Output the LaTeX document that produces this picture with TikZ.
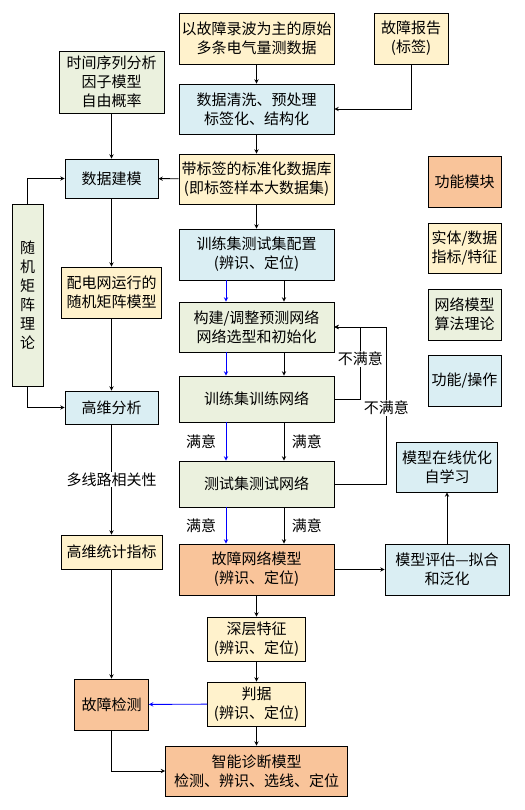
\documentclass[tikz,border=0pt]{standalone}
\usepackage{fontspec}
\setmainfont{Noto Sans CJK SC}
\definecolor{funcc}{HTML}{F9C49A}
\definecolor{entc}{HTML}{FFF2CC}
\definecolor{netc}{HTML}{EBF1DE}
\definecolor{opc}{HTML}{DAEEF3}
\begin{document}
\begin{tikzpicture}[x=1pt,y=-1pt,>=stealth,line width=0.9pt,
  every node/.style={font=\fontsize{15}{19}\selectfont},
  box/.style={draw,align=center,inner sep=0pt},
  func/.style={box,fill=funcc},
  ent/.style={box,fill=entc},
  net/.style={box,fill=netc},
  op/.style={box,fill=opc},
  lbl/.style={fill=white,inner sep=1pt}]
\useasboundingbox (0,0) rectangle (524,810);

\node[ent,minimum width=155,minimum height=51] (raw) at (256.5,38.5) {以故障录波为主的原始\\多条电气量测数据};
\node[ent,minimum width=74,minimum height=51] (report) at (411,38.5) {故障报告\\(标签)};
\node[op,minimum width=155,minimum height=50] (clean) at (256.5,109) {数据清洗、预处理\\标签化、结构化};
\node[net,minimum width=105,minimum height=62] (tsa) at (111.5,82) {时间序列分析\\因子模型\\自由概率};
\node[ent,minimum width=155,minimum height=50] (db) at (256.5,179) {带标签的标准化数据库\\(即标签样本大数据集)};
\node[op,minimum width=93,minimum height=39] (dmodel) at (111.5,178.5) {数据建模};
\node[net,minimum width=31,minimum height=182] (rmt) at (27.5,295) {随\\机\\矩\\阵\\理\\论};
\node[op,minimum width=155,minimum height=51] (cfg) at (256.5,254.5) {训练集测试集配置\\(辨识、定位)};
\node[ent,minimum width=100,minimum height=51] (rmm) at (111.5,292.5) {配电网运行的\\随机矩阵模型};
\node[net,minimum width=155,minimum height=50] (build) at (256.5,327) {构建/调整预测网络\\网络选型和初始化};
\node[net,minimum width=155,minimum height=46] (train) at (256.5,399) {训练集训练网络};
\node[op,minimum width=93,minimum height=33] (hda) at (111.5,407.5) {高维分析};
\node[net,minimum width=155,minimum height=46] (test) at (256.5,484) {测试集测试网络};
\node[op,minimum width=101,minimum height=50] (online) at (447,467) {模型在线优化\\自学习};
\node[ent,minimum width=101,minimum height=34] (hds) at (111.5,552) {高维统计指标};
\node[func,minimum width=155,minimum height=51] (fnm) at (256.5,569.5) {故障网络模型\\(辨识、定位)};
\node[op,minimum width=124,minimum height=51] (eval) at (447,569.5) {模型评估—拟合\\和泛化};
\node[ent,minimum width=98,minimum height=44] (deep) at (256.5,639) {深层特征\\(辨识、定位)};
\node[ent,minimum width=98,minimum height=44] (crit) at (256.5,704) {判据\\(辨识、定位)};
\node[func,minimum width=74,minimum height=51] (detect) at (111.5,704.5) {故障检测};
\node[func,minimum width=182,minimum height=50] (diag) at (256.5,771) {智能诊断模型\\检测、辨识、选线、定位};

\node[func,minimum width=73,minimum height=51] (leg1) at (464.5,181.5) {功能模块};
\node[ent,minimum width=73,minimum height=50] (leg2) at (464.5,248) {实体/数据\\指标/特征};
\node[net,minimum width=73,minimum height=51] (leg3) at (464.5,314.5) {网络模型\\算法理论};
\node[op,minimum width=73,minimum height=51] (leg4) at (464.5,380.5) {功能/操作};

\draw[->] (raw) -- (clean);
\draw[->] (report.south) |- (clean.east);
\draw[->] (clean) -- (db);
\draw[->] (tsa) -- (dmodel);
\draw[->] (db) -- (dmodel);
\draw[->] (rmt.north) |- (dmodel.west);
\draw[->] (rmt.south) |- (hda.west);
\draw[->] (dmodel) -- (rmm);
\draw[->] (rmm) -- (hda);
\draw[->] (db) -- (cfg);

\draw[->,blue] ([xshift=-30.5pt]cfg.south) -- ([xshift=-30.5pt]build.north);
\draw[->] ([xshift=27.5pt]cfg.south) -- ([xshift=27.5pt]build.north);
\draw[->,blue] ([xshift=-30.5pt]build.south) -- ([xshift=-30.5pt]train.north);
\draw[->] ([xshift=27.5pt]build.south) -- ([xshift=27.5pt]train.north);
\draw[->,blue] ([xshift=-30.5pt]train.south) --
  node[left,black,xshift=-6pt] {满意}
  ([xshift=-30.5pt]test.north);
\draw[->] ([xshift=27.5pt]train.south) --
  node[right,xshift=4pt] {满意}
  ([xshift=27.5pt]test.north);
\draw[->,blue] ([xshift=-30.5pt]test.south) --
  node[left,black,xshift=-6pt] {满意}
  ([xshift=-30.5pt]fnm.north);
\draw[->] ([xshift=27.5pt]test.south) --
  node[right,xshift=4pt] {满意}
  ([xshift=27.5pt]fnm.north);

\draw[->] (test.east) -- ++(52,0) -- ++(0,-76)
  node[lbl] {不满意} |- (build.east);
\draw[->] (train.east) -- ++(26,0) -- ++(0,-72)
  node[pos=0.56,lbl] {不满意} |- (build.east);

\draw[->] (hda) -- node[lbl] {多线路相关性} (hds);
\draw[->] (hds) -- (detect);
\draw[->] (fnm) -- (eval);
\draw[->] (eval) -- (online);
\draw[->] (fnm) -- (deep);
\draw[->] (deep) -- (crit);
\draw[->] (crit) -- (diag);
\draw[->,blue] (crit) -- (detect);
\draw[->] (detect.south) |- (diag.west);

\end{tikzpicture}
\end{document}
